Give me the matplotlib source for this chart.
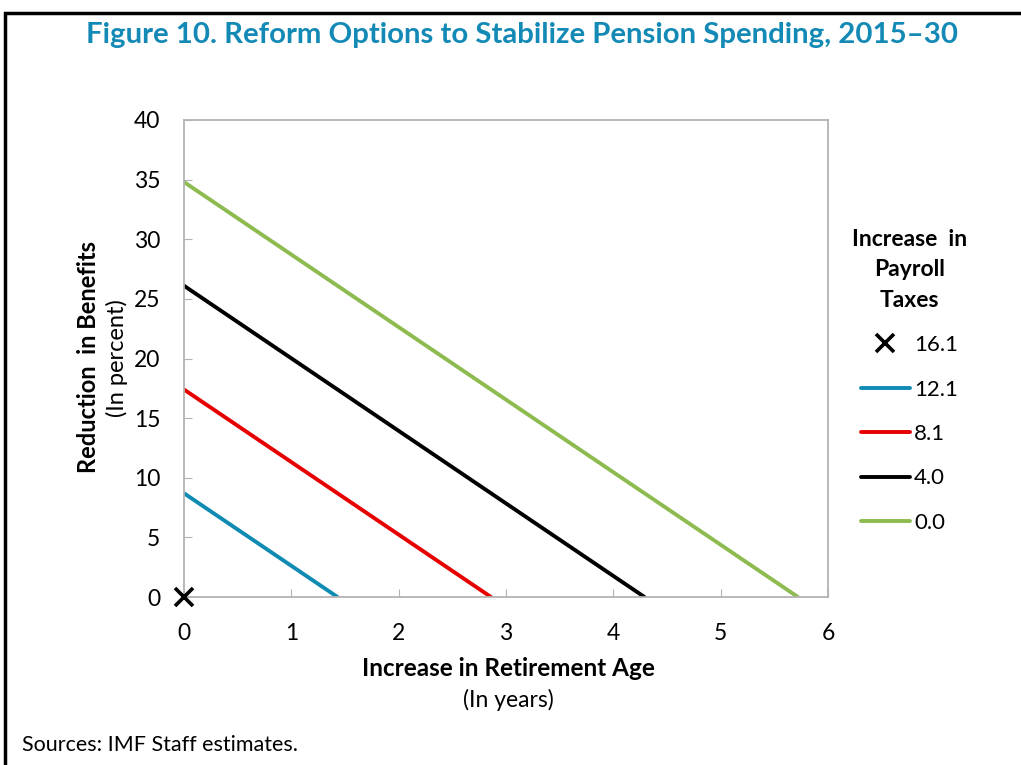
#Reform options to stabilize pension spending
#Trade-off lines between benefit cuts and retirement age

import matplotlib.pyplot as plt
from matplotlib.patches import Rectangle

#data
tax_labels = ['16.1', '12.1', '8.1', '4.0', '0.0']
line_colors = ['#0f8bb3', '#e60000', '#000000', '#8dbb4f']
benefit_cut_at_0 = [8.7, 17.4, 26.1, 34.8]      # y at retirement age increase 0
age_at_zero_cut = [1.43, 2.86, 4.29, 5.72]      # x where benefit reduction hits 0
x_point = [0]
y_point = [0]

x_ticks = [0, 1, 2, 3, 4, 5, 6]
y_ticks = [0, 5, 10, 15, 20, 25, 30, 35, 40]

plt.rcParams['font.family'] = ['Lato', 'DejaVu Sans']
title_color = '#1389b5'
grey = '#b3b3b3'

fig = plt.figure(figsize=(10.21, 7.65), dpi=100)
ax = fig.add_axes([184/1021, 1 - 597/765, (828 - 184)/1021, (597 - 120)/765])

#the 16.1 case: no further reform needed
ax.plot(x_point, y_point, linestyle='none', marker='x', markersize=13,
        markeredgewidth=2.6, color='black', label=tax_labels[0], clip_on=False, zorder=5)

for i in range(len(line_colors)):
    ax.plot([0, age_at_zero_cut[i]], [benefit_cut_at_0[i], 0], color=line_colors[i],
            linewidth=2.8, label=tax_labels[i + 1], solid_capstyle='round')

ax.set_xlim(0, 6)
ax.set_ylim(0, 40)
ax.set_xticks(x_ticks)
ax.set_yticks(y_ticks)
ax.tick_params(direction='in', length=6, color=grey, labelsize=16.5)
ax.tick_params(axis='x', pad=19)
ax.tick_params(axis='y', pad=17)
for s in ax.spines.values():
    s.set_color(grey)
    s.set_linewidth(1.3)

#axis labels
fig.text(508/1021, 1 - 668/765, 'Increase in Retirement Age', ha='center', va='center',
         fontsize=17.5, fontweight='bold')
fig.text(508/1021, 1 - 700/765, '(In years)', ha='center', va='center', fontsize=16.5)
fig.text(88/1021, 1 - 357/765, 'Reduction  in Benefits', ha='center', va='center',
         fontsize=17, fontweight='bold', rotation=90)
fig.text(117/1021, 1 - 358/765, '(In percent)', ha='center', va='center', fontsize=17,
         rotation=90)

#title and source
fig.text(522/1021, 1 - 35/765, 'Figure 10. Reform Options to Stabilize Pension Spending, 2015\u201330',
         ha='center', va='center', fontsize=21.2, fontweight='bold', color=title_color)
fig.text(22/1021, 1 - 745/765, 'Sources: IMF Staff estimates.', ha='left', va='center',
         fontsize=15.5)

leg = fig.legend(loc='upper left', bbox_to_anchor=(832/1021, 1 - 209/765), frameon=False,
                 title='Increase  in\nPayroll\nTaxes', fontsize=16, handlelength=2.2,
                 handletextpad=0.2, labelspacing=1.1)
leg.get_title().set_fontweight('bold')
leg.get_title().set_fontsize(16.5)
leg.get_title().set_multialignment('center')
leg.get_title().set_linespacing(1.55)

#outer frame
fig.patches.append(Rectangle((5/1021, -0.01), 1.02, 1 - 13/765 + 0.01, transform=fig.transFigure,
                             fill=False, edgecolor='black', linewidth=2.5))

fig.savefig('out.png', dpi=100)
